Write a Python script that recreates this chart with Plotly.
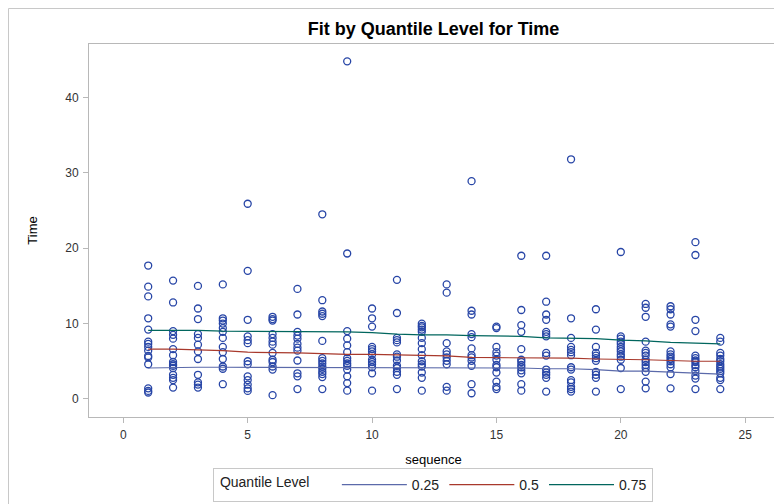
"""Quantile fit scatter: Time by sequence with 0.25/0.5/0.75 quantile curves."""

import plotly.graph_objects as go

time_by_seq = {
    1: [17.7, 14.9, 13.6, 10.7, 9.2, 7.6, 7.3, 6.9, 6.4, 5.7, 5.5, 4.6, 1.4, 1.06, 0.85],
    2: [15.7, 12.8, 9.0, 8.5, 8.0, 6.6, 5.8, 4.9, 4.6, 4.4, 4.1, 3.2, 2.8, 2.5, 1.5],
    3: [15.0, 12.0, 10.6, 8.6, 8.1, 7.2, 6.3, 5.3, 3.2, 2.2, 1.9, 1.5],
    4: [15.2, 10.7, 10.4, 10.0, 9.4, 8.9, 8.1, 6.9, 6.2, 5.3, 4.3, 4.0, 1.95],
    5: [25.9, 17.0, 10.5, 8.3, 7.8, 7.4, 5.0, 4.6, 3.0, 2.5, 1.9, 1.4, 1.06],
    6: [10.9, 10.6, 10.4, 8.6, 8.1, 7.6, 7.2, 6.1, 5.2, 4.9, 4.3, 3.9, 0.5],
    7: [14.6, 11.2, 8.9, 8.4, 8.0, 7.3, 6.8, 6.4, 5.1, 3.4, 3.0, 1.3],
    8: [24.5, 13.1, 11.6, 11.3, 11.0, 7.7, 5.4, 5.05, 4.7, 4.3, 4.0, 3.6, 3.3, 2.9, 1.3],
    9: [44.8, 19.3, 9.0, 8.0, 7.1, 6.2, 5.4, 5.05, 4.7, 4.4, 3.9, 3.0, 2.1, 1.1],
    10: [12.0, 10.7, 9.6, 6.9, 6.6, 6.3, 5.9, 5.2, 4.9, 4.6, 4.2, 3.4, 1.1],
    11: [15.8, 11.4, 8.1, 7.8, 7.5, 5.9, 5.6, 5.1, 4.4, 4.1, 3.6, 3.2, 1.3],
    12: [10.0, 9.7, 9.5, 9.2, 8.9, 8.1, 7.4, 6.6, 5.8, 5.0, 4.6, 4.3, 3.5, 2.8, 1.1],
    13: [15.2, 14.1, 7.4, 6.3, 5.9, 5.5, 5.05, 4.6, 1.6, 1.1],
    14: [28.9, 11.7, 11.2, 8.6, 8.2, 6.7, 5.8, 5.5, 5.05, 4.4, 1.95, 0.75],
    15: [9.6, 9.4, 6.9, 6.2, 5.75, 5.2, 4.5, 4.2, 3.5, 2.3, 1.6, 1.3],
    16: [19.0, 11.8, 9.8, 8.9, 6.6, 5.2, 4.9, 4.5, 4.2, 3.8, 3.4, 1.95, 1.1],
    17: [19.0, 12.9, 11.2, 10.5, 8.9, 8.6, 8.3, 6.1, 5.75, 3.9, 3.5, 3.2, 2.8, 0.97],
    18: [31.8, 10.7, 8.1, 6.9, 6.5, 6.2, 5.8, 4.2, 3.9, 2.5, 2.2, 1.6, 1.3, 0.97],
    19: [11.9, 9.2, 6.9, 6.1, 5.75, 5.4, 5.05, 3.6, 3.2, 2.8, 0.97],
    20: [19.5, 8.3, 8.0, 7.6, 7.3, 6.9, 6.6, 6.3, 5.9, 5.6, 5.2, 4.1, 1.3],
    21: [12.6, 12.1, 10.9, 7.6, 6.4, 6.1, 5.75, 5.2, 4.9, 4.5, 4.1, 3.6, 2.3, 1.4],
    22: [12.3, 11.9, 11.2, 9.9, 9.6, 6.3, 5.9, 5.6, 5.3, 5.0, 4.6, 4.2, 3.3, 1.4],
    23: [20.8, 19.1, 10.5, 9.0, 5.75, 5.4, 5.1, 4.9, 4.5, 4.2, 3.7, 3.1, 2.7, 1.3],
    24: [8.1, 7.6, 6.1, 5.75, 5.3, 5.0, 4.6, 4.3, 4.0, 3.7, 3.4, 2.8, 2.5, 1.3],
}

# fitted quantile curves at each sequence value
sequence = list(range(1, 25))
q25 = [4.1, 4.2, 4.2, 4.2, 4.2, 4.2, 4.2, 4.2, 4.2, 4.2, 4.2, 4.2,
       4.2, 4.1, 4.1, 4.1, 4.0, 4.0, 3.9, 3.7, 3.7, 3.6, 3.5, 3.3]
q50 = [6.6, 6.6, 6.5, 6.4, 6.2, 6.2, 6.1, 6.0, 5.9, 5.9, 5.8, 5.7,
       5.7, 5.5, 5.5, 5.4, 5.4, 5.4, 5.3, 5.3, 5.2, 5.1, 5.0, 5.0]
q75 = [9.1, 9.1, 9.1, 9.0, 9.0, 9.0, 9.0, 8.9, 8.9, 8.8, 8.6, 8.5,
       8.5, 8.4, 8.3, 8.3, 8.1, 8.1, 8.0, 7.8, 7.7, 7.5, 7.4, 7.3]

FONT = "Liberation Sans, Arial, sans-serif"

pts_x = [s for s, vals in time_by_seq.items() for _ in vals]
pts_y = [v for vals in time_by_seq.values() for v in vals]

fig = go.Figure()

fig.add_trace(
    go.Scatter(
        x=pts_x,
        y=pts_y,
        mode="markers",
        marker={"symbol": "circle-open", "size": 7, "color": "#2745A6", "line": {"width": 1.3}},
        showlegend=False,
    ),
)

for name, vals, color in [("0.25", q25, "#5B6AAA"), ("0.5", q50, "#A8392C"), ("0.75", q75, "#01665E")]:
    fig.add_trace(
        go.Scatter(
            x=sequence,
            y=vals,
            mode="lines",
            name=name,
            line={"color": color, "width": 1.2},
        ),
    )

axis_common = {
    "showgrid": False,
    "zeroline": False,
    "showline": True,
    "linecolor": "#B8B8B8",
    "linewidth": 1,
    "mirror": True,
    "ticks": "outside",
    "ticklen": 5,
    "tickcolor": "#B8B8B8",
    "tickfont": {"family": FONT, "size": 12, "color": "#333333"},
}

# page body keeps its 8px margin: figure sits 8px in, extra height is just cropped
W, H = 774, 504
L, T, R, B = 81, 36, 4, 95
plot_w = W - L - R
plot_h = H - T - B

fig.update_layout(
    width=W,
    height=H,
    margin={"l": L, "r": R, "t": T, "b": B},
    paper_bgcolor="white",
    plot_bgcolor="white",
    font={"family": FONT, "size": 12, "color": "#000000"},
    title={
        "text": "<b>Fit by Quantile Level for Time</b>",
        "x": 0.5,
        "xref": "paper",
        "xanchor": "center",
        "y": 1 - 21 / H,
        "yanchor": "middle",
        "font": {"family": FONT, "size": 18, "color": "#000000"},
    },
    xaxis={
        **axis_common,
        "range": [-1.38, 26.32],
        "tickvals": [0, 5, 10, 15, 20, 25],
        "ticklabelstandoff": 2,
        "title": {"text": "sequence", "standoff": 13, "font": {"family": FONT, "size": 13}},
    },
    yaxis={
        **axis_common,
        "range": [-2.4, 47.1],
        "tickvals": [0, 10, 20, 30, 40],
        "ticklabelstandoff": 2,
        "title": {"text": "Time", "standoff": 24, "font": {"family": FONT, "size": 13}},
    },
    legend={
        "orientation": "h",
        "x": 0.18,
        "xanchor": "left",
        "y": -51 / plot_h,
        "yanchor": "top",
        "bordercolor": "#C8C8C8",
        "borderwidth": 1,
        "font": {"family": FONT, "size": 14, "color": "#222222"},
        "title": {"text": "\u00a0Quantile Level\u00a0\u00a0\u00a0\u00a0\u00a0", "side": "left",
                  "font": {"family": FONT, "size": 14, "color": "#222222"}},
        "itemwidth": 65,
    },
    shapes=[
        {"type": "line", "xref": "paper", "yref": "paper",
         "x0": -80.5 / plot_w, "x1": 1.02, "y0": 408.5 / plot_h, "y1": 408.5 / plot_h,
         "line": {"color": "#C8C8C8", "width": 1}},
        {"type": "line", "xref": "paper", "yref": "paper",
         "x0": -80.5 / plot_w, "x1": -80.5 / plot_w, "y0": 408.5 / plot_h, "y1": -95 / plot_h,
         "line": {"color": "#C8C8C8", "width": 1}},
    ],
)

fig.write_html("out.html")
